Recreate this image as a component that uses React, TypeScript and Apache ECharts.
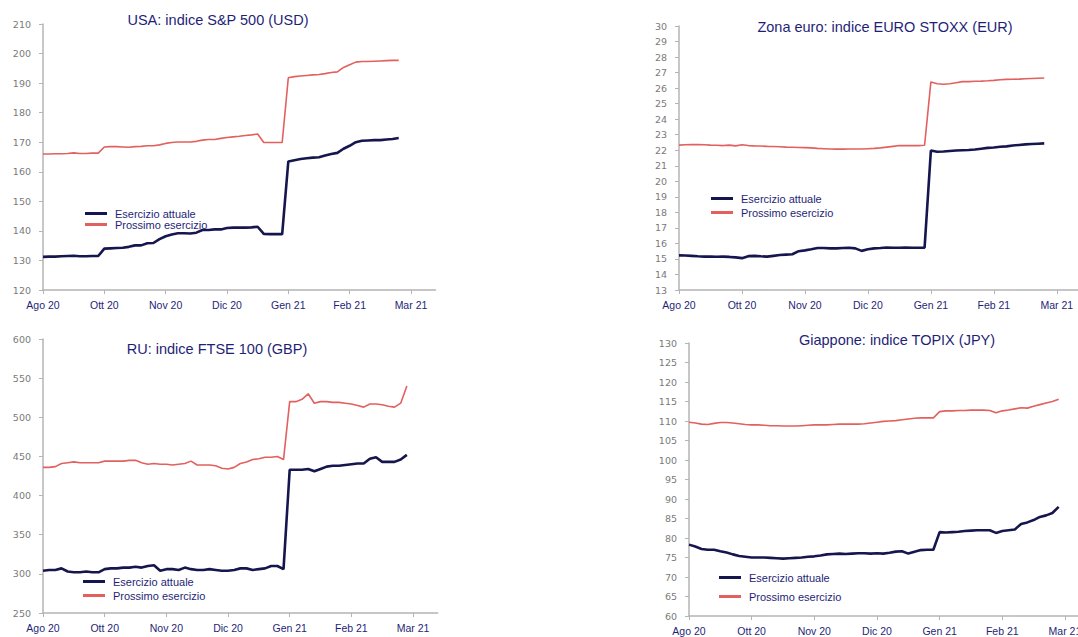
import React, { useEffect, useRef } from "react";
import * as echarts from "echarts";

const monthLabels = ["Ago 20", "Ott 20", "Nov 20", "Dic 20", "Gen 21", "Feb 21", "Mar 21"];
const STEPS_PER_MONTH = 10;
const CATEGORY_COUNT = 65;

const titles = [
  "USA: indice S&P 500 (USD)",
  "Zona euro: indice EURO STOXX (EUR)",
  "RU: indice FTSE 100 (GBP)",
  "Giappone: indice TOPIX (JPY)",
];
const seriesNames = ["Esercizio attuale", "Prossimo esercizio"];

// USA S&P 500
const usaCurrent = [
  131.2, 131.3, 131.3, 131.4, 131.5, 131.6, 131.4, 131.4, 131.5, 131.5,
  134.0, 134.1, 134.2, 134.3, 134.6, 135.1, 135.1, 135.8, 135.9, 137.2,
  138.2, 138.8, 139.2, 139.2, 139.1, 139.4, 140.3, 140.3, 140.5, 140.5,
  141.0, 141.1, 141.1, 141.1, 141.2, 141.4, 139.0, 138.9, 138.9, 138.9,
  163.5, 163.9, 164.3, 164.6, 164.8, 164.9, 165.5, 166.0, 166.4, 167.8,
  168.8, 170.0, 170.5, 170.6, 170.7, 170.7, 170.9, 171.1, 171.4,
];
const usaNext = [
  166.0, 166.0, 166.1, 166.1, 166.2, 166.4, 166.2, 166.2, 166.3, 166.3,
  168.4, 168.5, 168.5, 168.4, 168.3, 168.5, 168.6, 168.8, 168.8, 169.1,
  169.6, 169.9, 170.1, 170.1, 170.1, 170.3, 170.7, 170.9, 170.9, 171.3,
  171.6, 171.8, 172.0, 172.3, 172.5, 172.8, 169.9, 169.9, 169.9, 169.9,
  191.8, 192.2, 192.4, 192.6, 192.8, 192.9, 193.2, 193.6, 193.8, 195.3,
  196.2, 197.1, 197.3, 197.3, 197.4, 197.5, 197.6, 197.7, 197.7,
];

// Euro zone EURO STOXX
const euroCurrent = [
  15.23, 15.22, 15.2, 15.17, 15.15, 15.15, 15.14, 15.15, 15.13, 15.1,
  15.05, 15.18, 15.2, 15.17, 15.15, 15.2, 15.25, 15.28, 15.3, 15.5,
  15.55, 15.62, 15.7, 15.7, 15.68, 15.68, 15.7, 15.72, 15.68, 15.52,
  15.62, 15.68, 15.7, 15.74, 15.72, 15.72, 15.73, 15.72, 15.72, 15.73,
  21.98, 21.9, 21.92, 21.95, 21.98, 22.0, 22.02, 22.05, 22.1, 22.15,
  22.18, 22.22, 22.25, 22.3, 22.34, 22.38, 22.4, 22.42, 22.44,
];
const euroNext = [
  22.33, 22.35, 22.36, 22.37, 22.35, 22.33, 22.32, 22.3, 22.33, 22.28,
  22.35, 22.3, 22.28, 22.27, 22.25, 22.24, 22.22, 22.2, 22.19, 22.18,
  22.17, 22.15, 22.12, 22.1, 22.08, 22.07, 22.07, 22.08, 22.08, 22.08,
  22.1, 22.12, 22.15, 22.2, 22.25, 22.3, 22.3, 22.3, 22.3, 22.32,
  26.4, 26.28, 26.25, 26.28, 26.35, 26.42, 26.42, 26.44, 26.45, 26.47,
  26.5, 26.54, 26.56, 26.57, 26.58, 26.6, 26.62, 26.64, 26.65,
];

// UK FTSE 100
const ukCurrent = [
  304, 305, 305, 307, 303, 302, 302, 303, 302, 302,
  306, 307, 307, 308, 308, 309, 308, 310, 311, 304,
  306, 306, 305, 308, 306, 305, 305, 306, 305, 304,
  304, 305, 307, 307, 305, 306, 307, 310, 310, 306,
  433, 433, 433, 434, 431, 434, 437, 438, 438, 439,
  440, 441, 441, 447, 449, 443, 443, 443, 446, 452,
];
const ukNext = [
  436, 436, 437, 441, 442, 443, 442, 442, 442, 442,
  444, 444, 444, 444, 445, 445, 442, 440, 441, 440,
  440, 439, 440, 441, 444, 439, 439, 439, 438, 435,
  434, 436, 441, 443, 446, 447, 449, 449, 450, 446,
  520, 520, 523, 530, 518, 520, 520, 519, 519, 518,
  517, 515, 513, 517, 517, 516, 514, 513, 518, 540,
];

// Japan TOPIX
const jpCurrent = [
  78.3, 77.8, 77.2, 77.0, 77.0, 76.6, 76.3, 75.8, 75.4, 75.2,
  75.0, 75.0, 75.0, 74.9, 74.8, 74.7, 74.8, 74.9, 75.0, 75.2,
  75.3, 75.5, 75.8, 75.9, 76.0, 75.9, 76.0, 76.1, 76.1, 76.0,
  76.1, 76.0, 76.2, 76.5, 76.6, 76.0, 76.5, 76.9, 77.0, 77.0,
  81.5, 81.4, 81.5, 81.6, 81.8, 81.9, 82.0, 82.0, 82.0, 81.3,
  81.8, 82.0, 82.2, 83.6, 84.0, 84.6, 85.4, 85.8, 86.4, 88.0,
];
const jpNext = [
  109.7, 109.5, 109.2, 109.1, 109.4, 109.6, 109.6, 109.5, 109.3, 109.1,
  109.0, 109.0, 108.9, 108.8, 108.8, 108.7, 108.7, 108.7, 108.8, 108.9,
  109.0, 109.0, 109.0, 109.1, 109.2, 109.2, 109.2, 109.2, 109.3, 109.5,
  109.7, 109.9, 110.0, 110.1, 110.3, 110.5, 110.7, 110.8, 110.8, 110.8,
  112.4, 112.6, 112.6, 112.7, 112.7, 112.8, 112.8, 112.8, 112.7, 112.1,
  112.6, 112.8, 113.1, 113.4, 113.3, 113.8, 114.2, 114.6, 115.0, 115.6,
];

const currentSeries = [usaCurrent, euroCurrent, ukCurrent, jpCurrent];
const nextSeries = [usaNext, euroNext, ukNext, jpNext];
const yMin = [120, 13, 250, 60];
const yMax = [210, 30, 600, 130];
const yStep = [10, 1, 50, 5];

const NAVY = "#16164f";
const RED = "#e2605e";
const TEXT_NAVY = "#1f1f78";
const AXIS_GRAY = "#b4b4b4";
const FONT = "'Liberation Sans', Arial, sans-serif";

const categories = Array.from({ length: CATEGORY_COUNT }, (_, i) =>
  i % STEPS_PER_MONTH === 0 && monthLabels[i / STEPS_PER_MONTH]
    ? monthLabels[i / STEPS_PER_MONTH]
    : `${monthLabels[Math.floor(i / STEPS_PER_MONTH)] || "Mar 21"} +${i % STEPS_PER_MONTH}`
);

// layout: grid boxes (pixels)
const grids = [
  { left: 43, top: 24, width: 392.5, height: 266 },
  { left: 679, top: 26, width: 403, height: 264 },
  { left: 43, top: 339, width: 394.7, height: 274 },
  { left: 689, top: 343, width: 401, height: 273 },
];
const titlePos = [
  [218, 20],
  [885, 27],
  [217, 349],
  [897, 340],
];
const legendPos = [
  { left: 85, top: 208, itemGap: 0 },
  { left: 711, top: 193, itemGap: 3 },
  { left: 83, top: 576, itemGap: 3 },
  { left: 719, top: 572, itemGap: 8 },
];

export default function App() {
  const ref = useRef<HTMLDivElement>(null);

  useEffect(() => {
    if (!ref.current) return;
    const chart = echarts.init(ref.current, null, { renderer: "svg" });

    const xAxis = grids.map((_, k) => ({
      type: "category",
      gridIndex: k,
      data: categories,
      boundaryGap: false,
      axisLine: { lineStyle: { color: AXIS_GRAY, width: 1.5 } },
      axisTick: { interval: STEPS_PER_MONTH - 1, length: 4, lineStyle: { color: AXIS_GRAY } },
      axisLabel: {
        interval: STEPS_PER_MONTH - 1,
        color: TEXT_NAVY,
        fontFamily: FONT,
        fontSize: 10.5,
        margin: 9,
      },
      splitLine: { show: false },
    }));

    const yAxis = grids.map((_, k) => ({
      type: "value",
      gridIndex: k,
      min: yMin[k],
      max: yMax[k],
      interval: yStep[k],
      axisLine: { show: true, lineStyle: { color: AXIS_GRAY, width: 1.5 } },
      axisTick: { show: true, length: 4, lineStyle: { color: AXIS_GRAY } },
      axisLabel: {
        color: "#7a7a7a",
        fontFamily: "'DejaVu Sans', sans-serif",
        fontSize: 9.5,
        margin: 12,
      },
      splitLine: { show: false },
    }));

    const series: any[] = [];
    grids.forEach((_, k) => {
      series.push({
        name: seriesNames[1],
        type: "line",
        xAxisIndex: k,
        yAxisIndex: k,
        data: nextSeries[k],
        showSymbol: false,
        symbol: "none",
        lineStyle: { color: RED, width: 1.6 },
        itemStyle: { color: RED },
        z: 2,
      });
      series.push({
        name: seriesNames[0],
        type: "line",
        xAxisIndex: k,
        yAxisIndex: k,
        data: currentSeries[k],
        showSymbol: false,
        symbol: "none",
        lineStyle: { color: NAVY, width: 2.6 },
        itemStyle: { color: NAVY },
        z: 3,
      });
    });

    const legend = legendPos.map((p) => ({
      orient: "vertical",
      left: p.left,
      top: p.top,
      itemGap: p.itemGap,
      padding: 0,
      itemWidth: 22,
      itemHeight: 3,
      icon: "rect",
      selectedMode: false,
      data: seriesNames,
      textStyle: { color: TEXT_NAVY, fontFamily: FONT, fontSize: 11, padding: [0, 0, 0, 3] },
    }));

    const graphic = titles.map((t, k) => ({
      type: "text",
      x: titlePos[k][0],
      y: titlePos[k][1],
      style: {
        text: t,
        fill: TEXT_NAVY,
        font: `14.5px ${FONT}`,
        align: "center",
        verticalAlign: "middle",
      },
      z: 10,
    }));

    chart.setOption({
      animation: false,
      backgroundColor: "#ffffff",
      grid: grids.map((g) => ({ ...g, containLabel: false })),
      xAxis,
      yAxis,
      series,
      legend,
      graphic,
    });

    return () => chart.dispose();
  }, []);

  return (
    <div
      ref={ref}
      style={{ position: "fixed", left: 0, top: 0, width: 1110, height: 637, background: "#fff" }}
    />
  );
}
